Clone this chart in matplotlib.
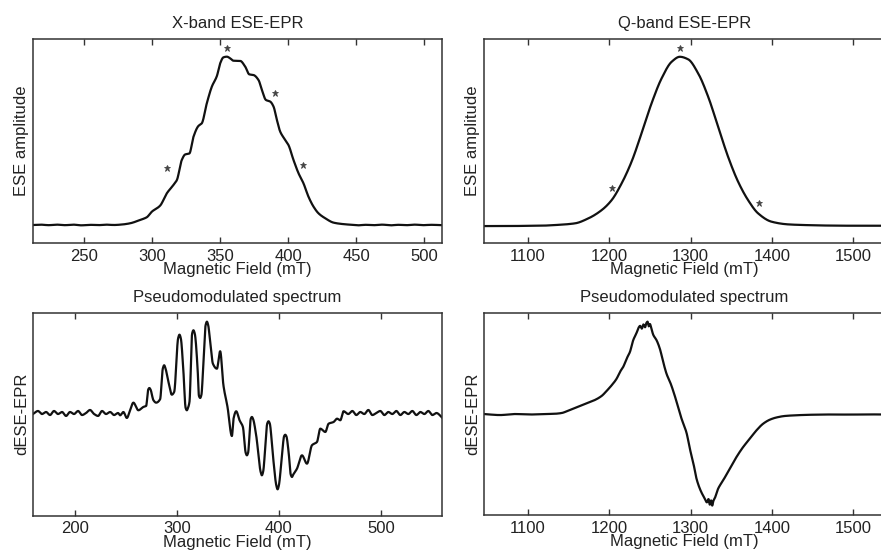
import numpy as np
import matplotlib
matplotlib.use("Agg")
import matplotlib.pyplot as plt

plt.rcParams['font.family'] = ['Liberation Sans', 'DejaVu Sans']

# ---------------- data ----------------
# X-band ESE-EPR (top left)
xb_field = [212.5, 218, 224, 230, 236, 242, 248, 254, 260, 266, 272, 278, 283.8, 291.2, 296.1, 299.8,
            305.9, 310.8, 315.7, 318.2, 321.8, 324.3, 327.4, 330.4, 334.0, 336.5, 340.2, 343.9,
            347.6, 350.0, 352.4, 354.9, 357.4, 359.8, 364.7, 368.4, 371.4, 374.5, 378.2, 380.7,
            383.6, 386.8, 389.2, 391.7, 394.1, 397.3, 400.2, 403.9, 407.6, 411.2, 414.9, 418.6,
            422.3, 427.2, 433.3, 439.5, 445, 451, 457, 463, 469, 475, 481, 487, 493, 499, 505, 513]
xb_amp = [0.000, 0.002, -0.001, 0.002, -0.001, 0.002, -0.002, 0.001, -0.001, 0.002, 0.000, 0.003, 0.010,
          0.030, 0.046, 0.079, 0.115, 0.188, 0.238, 0.267, 0.386, 0.419, 0.425, 0.524, 0.588,
          0.604, 0.723, 0.822, 0.885, 0.960, 0.996, 1.000, 0.990, 0.976, 0.975, 0.941, 0.895,
          0.891, 0.861, 0.802, 0.743, 0.733, 0.704, 0.624, 0.555, 0.511, 0.475, 0.386, 0.307,
          0.248, 0.168, 0.109, 0.069, 0.040, 0.014, 0.006, 0.002, -0.002, 0.001, -0.001, 0.002,
          -0.002, 0.001, -0.001, 0.002, -0.001, 0.001, -0.001]
xb_star_field = [355.4, 310.8, 390.4, 410.8]
xb_star_amp = [1.05, 0.337, 0.786, 0.357]

# Q-band ESE-EPR (top right)
qb_field = [1046, 1070, 1095, 1115, 1133.2, 1157.8, 1174.1, 1190.6, 1202.9, 1215.2, 1227.4, 1239.7,
            1252.0, 1264.3, 1276.6, 1286.8, 1297.0, 1309.3, 1321.6, 1333.8, 1346.1, 1358.4,
            1370.7, 1383.0, 1399.4, 1419.8, 1440.4, 1470, 1500, 1539]
qb_amp = [0.000, 0.000, 0.001, 0.002, 0.006, 0.016, 0.045, 0.094, 0.153, 0.252, 0.380, 0.548,
          0.725, 0.872, 0.970, 1.000, 0.985, 0.902, 0.764, 0.587, 0.409, 0.262, 0.153, 0.075,
          0.026, 0.010, 0.006, 0.003, 0.002, 0.002]
qb_star_field = [1286.8, 1202.9, 1383.8]
qb_star_amp = [1.05, 0.223, 0.138]

# X-band pseudomodulated (bottom left)
xd_field = [159.0, 163.9, 167.8, 171.8, 175.7, 179.6, 183.5, 187.5, 191.4, 195.3, 199.2, 203.2,
            207.1, 211.0, 214.9, 218.9, 222.8, 226.7, 230.6, 234.6, 238.5, 242.4, 244.4, 247.6,
            251.0, 254.2, 257.4, 262.3, 267.2, 269.9, 272.0, 273.1, 274.2, 277.1, 279.7, 283.6,
            286.3, 287.6, 288.9, 291.8, 295.1, 297.4, 301.3, 302.6, 303.9, 306.5, 308.6, 309.8,
            311.0, 312.4, 315.0, 316.3, 317.6, 320.3, 321.7, 322.9, 324.1, 326.1, 328.2, 329.5,
            330.8, 332.7, 335.4, 339.3, 342.5, 345.7, 349.7, 354.0, 355.6, 358.2, 361.5, 364.8,
            367.5, 368.7, 369.9, 372.5, 373.6, 374.7, 377.8, 382.2, 383.4, 384.6, 388.7, 389.9,
            391.1, 394.2, 397.6, 398.8, 400.0, 403.1, 405.2, 406.3, 407.4, 409.6, 411.7, 412.9,
            414.1, 417.8, 422.7, 427.6, 432.5, 437.4, 440.7, 445.6, 448.8, 453.7, 457.1, 460.3,
            463.5, 468.1, 472.1, 476.0, 479.9, 483.8, 487.8, 491.7, 495.6, 499.5, 503.5, 507.4,
            511.3, 515.2, 519.2, 523.1, 527.0, 530.9, 534.9, 538.8, 542.7, 546.6, 550.6, 554.5,
            560.4]
xd_amp = [-0.008, 0.025, -0.008, 0.014, -0.019, 0.025, -0.008, 0.014, -0.029, 0.014, -0.008, 0.025,
          -0.019, 0.003, 0.036, -0.008, -0.029, 0.025, -0.008, 0.014, -0.019, 0.003, -0.022, 0.014,
          -0.051, 0.033, 0.116, 0.033, 0.069, 0.080, 0.260, 0.276, 0.260, 0.142, 0.116, 0.153,
          0.490, 0.524, 0.490, 0.342, 0.203, 0.233, 0.820, 0.858, 0.820, 0.451, 0.060, 0.033,
          0.060, 0.123, 0.870, 0.906, 0.870, 0.505, 0.190, 0.167, 0.200, 0.560, 0.960, 1.000,
          0.960, 0.778, 0.541, 0.487, 0.677, 0.306, 0.069, -0.248, -0.059, 0.022, -0.076, -0.150,
          -0.430, -0.459, -0.430, -0.060, -0.040, -0.060, -0.240, -0.640, -0.677, -0.640, -0.110, -0.087,
          -0.110, -0.459, -0.790, -0.830, -0.790, -0.459, -0.250, -0.234, -0.250, -0.422, -0.670, -0.695,
          -0.670, -0.605, -0.459, -0.550, -0.349, -0.313, -0.168, -0.204, -0.114, -0.095, -0.059, -0.076,
          0.022, -0.008, 0.025, -0.019, 0.014, -0.008, 0.036, -0.019, 0.003, 0.025, -0.019, 0.014,
          -0.008, 0.025, -0.019, 0.014, -0.008, 0.025, -0.019, 0.014, -0.008, 0.025, -0.019, 0.003,
          -0.050]

# Q-band pseudomodulated (bottom right)
qd_field = [1046.0, 1065.7, 1084.1, 1102.5, 1120.9, 1133.2, 1141.5, 1149.6, 1157.8, 1166.0, 1174.1,
            1182.4, 1190.6, 1196.7, 1202.9, 1209.0, 1213.1, 1217.1, 1221.3, 1225.4, 1229.4, 1233.6,
            1236.0, 1238.0, 1240.0, 1242.0, 1244.0, 1245.6, 1247.1, 1248.5, 1249.9, 1252.0, 1254.0,
            1258.2, 1262.2, 1266.3, 1270.4, 1275.7, 1280.6, 1288.9, 1295.0, 1299.1, 1303.1, 1307.3,
            1312.2, 1317.5, 1320.0, 1322.0, 1323.6, 1325.2, 1326.6, 1328.0, 1330.0, 1333.8, 1340.0,
            1348.2, 1356.4, 1364.6, 1372.8, 1381.0, 1389.1, 1397.4, 1405.6, 1415.8, 1428.1, 1446.5,
            1471.1, 1495.6, 1520.2, 1539]
qd_amp = [0.003, -0.008, 0.003, -0.002, 0.003, 0.006, 0.014, 0.040, 0.068, 0.097, 0.125,
          0.155, 0.198, 0.252, 0.313, 0.384, 0.457, 0.511, 0.600, 0.673, 0.799, 0.880,
          0.935, 0.955, 0.925, 0.970, 0.940, 0.985, 1.000, 0.950, 0.975, 0.920, 0.860,
          0.799, 0.708, 0.565, 0.438, 0.327, 0.198, -0.048, -0.200, -0.372, -0.515, -0.696,
          -0.821, -0.912, -0.950, -0.915, -0.975, -0.930, -0.985, -0.935, -0.900, -0.804, -0.713,
          -0.588, -0.461, -0.353, -0.264, -0.173, -0.102, -0.058, -0.034, -0.018, -0.011, -0.005,
          -0.002, -0.003, -0.001, -0.002]

xb_ticks = [250, 300, 350, 400, 450, 500]
qb_ticks = [1100, 1200, 1300, 1400, 1500]
xd_ticks = [200, 300, 400, 500]


def pchip(x, y, n=2000):
    """Monotone piecewise cubic Hermite interpolation (Fritsch-Carlson)."""
    x = np.asarray(x, float)
    y = np.asarray(y, float)
    h = np.diff(x)
    delta = np.diff(y) / h
    d = np.zeros_like(y)
    for k in range(1, len(x) - 1):
        if delta[k - 1] * delta[k] <= 0:
            d[k] = 0.0
        else:
            w1 = 2 * h[k] + h[k - 1]
            w2 = h[k] + 2 * h[k - 1]
            d[k] = (w1 + w2) / (w1 / delta[k - 1] + w2 / delta[k])
    d[0] = delta[0]
    d[-1] = delta[-1]
    xf = np.linspace(x[0], x[-1], n)
    idx = np.clip(np.searchsorted(x, xf) - 1, 0, len(x) - 2)
    hk = h[idx]
    t = (xf - x[idx]) / hk
    h00 = 2 * t ** 3 - 3 * t ** 2 + 1
    h10 = t ** 3 - 2 * t ** 2 + t
    h01 = -2 * t ** 3 + 3 * t ** 2
    h11 = t ** 3 - t ** 2
    yf = h00 * y[idx] + h10 * hk * d[idx] + h01 * y[idx + 1] + h11 * hk * d[idx + 1]
    return xf, yf


W, H = 881, 555
fig = plt.figure(figsize=(W / 100, H / 100), dpi=100)


def make_ax(l, r, t, b):
    return fig.add_axes([l / W, 1 - b / H, (r - l) / W, (b - t) / H])


txt = '#222222'
FS = 12


def style(ax, ticks, xlim, ylim, title, ylabel):
    ax.set_xlim(*xlim)
    ax.set_ylim(*ylim)
    ax.set_xticks(ticks)
    ax.set_yticks([])
    ax.tick_params(axis='x', direction='in', top=True, bottom=True, length=4, width=1,
                   color='#333333', labelsize=FS, labelcolor=txt, pad=4)
    for s in ax.spines.values():
        s.set_linewidth(1.1)
        s.set_color('#333333')
    ax.set_title(title, fontsize=FS, color=txt, pad=8)
    ax.set_ylabel(ylabel, fontsize=FS, color=txt, labelpad=3)
    ax.set_xlabel('Magnetic Field (mT)', fontsize=FS, color=txt, labelpad=-1)


lc = '#111111'
lw = 1.6

ax1 = make_ax(33, 442, 39, 243)
xs, ys = pchip(xb_field, xb_amp)
ax1.plot(xs, ys, color=lc, lw=lw)
ax1.plot(xb_star_field, xb_star_amp, ls='none', marker='*', ms=5, color='#444444', mew=0.6)
style(ax1, xb_ticks, (212.5, 513), (-0.107, 1.105), 'X-band ESE-EPR', 'ESE amplitude')

ax2 = make_ax(484, 885, 39, 243)
xs, ys = pchip(qb_field, qb_amp)
ax2.plot(xs, ys, color=lc, lw=lw)
ax2.plot(qb_star_field, qb_star_amp, ls='none', marker='*', ms=5, color='#444444', mew=0.6)
style(ax2, qb_ticks, (1046, 1539), (-0.10, 1.105), 'Q-band ESE-EPR', 'ESE amplitude')

ax3 = make_ax(33, 442, 312.7, 515.7)
xs, ys = pchip(xd_field, xd_amp, n=4000)
ax3.plot(xs, ys, color=lc, lw=lw)
style(ax3, xd_ticks, (159, 560), (-1.118, 1.098), 'Pseudomodulated spectrum', 'dESE-EPR')

ax4 = make_ax(484, 885, 312.7, 515)
xs, ys = pchip(qd_field, qd_amp, n=4000)
ax4.plot(xs, ys, color=lc, lw=lw)
style(ax4, qb_ticks, (1046, 1539), (-1.087, 1.097), 'Pseudomodulated spectrum', 'dESE-EPR')

fig.savefig('out.png', dpi=100)
